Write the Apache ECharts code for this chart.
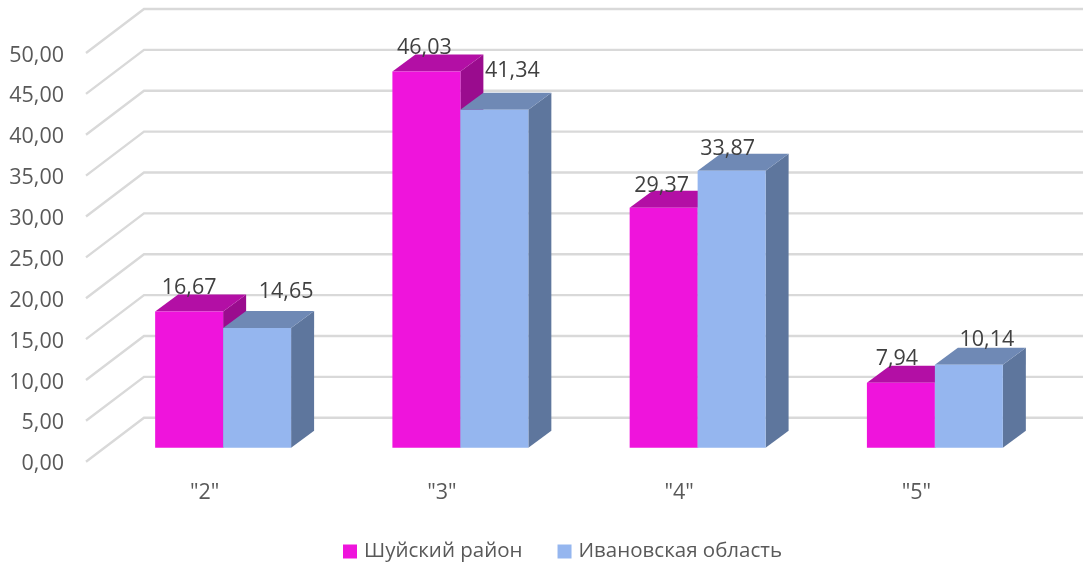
<!DOCTYPE html>
<html>
<head>
<meta charset="utf-8">
<style>
  html, body { margin: 0; padding: 0; background: #fff; }
  #chart { width: 1083px; height: 565px; }
</style>
</head>
<body>
<div id="chart"></div>
<script src="https://cdn.jsdelivr.net/npm/echarts@6/dist/echarts.min.js"></script>
<script>
const categories = ['"2"', '"3"', '"4"', '"5"'];
const shuya = [16.67, 46.03, 29.37, 7.94];
const ivanovo = [14.65, 41.34, 33.87, 10.14];
const yTicks = [0, 5, 10, 15, 20, 25, 30, 35, 40, 45, 50];
const seriesNames = ['Шуйский район', 'Ивановская область'];

const FONT = '"Open Sans", sans-serif';
const fmt = v => v.toFixed(2).replace('.', ',');

// depth of the back wall and of a bar, and where the bars stand between wall and front edge
const WALL = [58, -44];
const BAR_DEPTH = [23, -17];
const FLOOR = [18.5, -14];
const BAR_WIDTH = 0.2865;

// label shifts by hand, the original has them dragged around
const shuyaNudge = [[0, -24], [-2, -24], [-2, -22], [-4, -24]];
const ivanovoNudge = [[29, -36], [18, -39], [-4, -22], [18, -25]];

function poly(points, fill) {
  return { type: 'polygon', shape: { points }, style: { fill } };
}

function barRender(side, nudge, colors) {
  return function (params, api) {
    const i = api.value(0);
    const v = api.value(1);
    const w = api.size([1, 0])[0] * BAR_WIDTH;
    const base = api.coord([i, 0]);
    const top = api.coord([i, v]);
    const x0 = base[0] + FLOOR[0] + (side < 0 ? -w : 0);
    const x1 = x0 + w;
    const y0 = base[1] + FLOOR[1];
    const y1 = top[1] + FLOOR[1];
    const dx = BAR_DEPTH[0];
    const dy = BAR_DEPTH[1];
    return {
      type: 'group',
      children: [
        poly([[x1, y0], [x1 + dx, y0 + dy], [x1 + dx, y1 + dy], [x1, y1]], colors.side),
        poly([[x0, y1], [x1, y1], [x1 + dx, y1 + dy], [x0 + dx, y1 + dy]], colors.top),
        poly([[x0, y0], [x1, y0], [x1, y1], [x0, y1]], colors.front),
        {
          type: 'text',
          z2: 10,
          style: {
            text: fmt(v),
            x: (x0 + x1) / 2 + nudge[i][0],
            y: y1 + nudge[i][1],
            align: 'center',
            verticalAlign: 'middle',
            fill: '#404040',
            font: '21.5px ' + FONT
          }
        }
      ]
    };
  };
}

function wallRender(params, api) {
  const p = api.coord([0, api.value(1)]);
  const sys = params.coordSys;
  return {
    type: 'polyline',
    shape: {
      points: [
        [sys.x, p[1]],
        [sys.x + WALL[0], p[1] + WALL[1]],
        [sys.x + sys.width + WALL[0], p[1] + WALL[1]]
      ]
    },
    style: { stroke: '#d9d9d9', lineWidth: 2.4, fill: null }
  };
}

const chart = echarts.init(document.getElementById('chart'));
chart.setOption({
  animation: false,
  backgroundColor: '#fff',
  grid: { left: 86, top: 53, width: 949, height: 408.7 },
  legend: {
    data: seriesNames,
    left: 338,
    top: 536,
    icon: 'rect',
    itemWidth: 14,
    itemHeight: 14,
    itemGap: 35,
    textStyle: { color: '#595959', fontSize: 20.5, fontFamily: FONT, padding: [0, 0, 0, 2] }
  },
  xAxis: {
    type: 'category',
    data: categories,
    axisLine: { show: false },
    axisTick: { show: false },
    axisLabel: { color: '#595959', fontSize: 21.5, fontFamily: FONT, margin: 20 }
  },
  yAxis: {
    type: 'value',
    min: 0,
    max: 50,
    interval: 5,
    splitLine: { show: false },
    axisLine: { show: false },
    axisTick: { show: false },
    axisLabel: {
      color: '#595959',
      fontSize: 21.5,
      fontFamily: FONT,
      margin: 22,
      verticalAlign: 'top',
      lineHeight: 5,
      formatter: fmt
    }
  },
  series: [
    {
      type: 'custom',
      silent: true,
      clip: false,
      renderItem: wallRender,
      data: yTicks.map(t => [0, t]),
      z: 1
    },
    {
      name: seriesNames[0],
      type: 'custom',
      clip: false,
      renderItem: barRender(-1, shuyaNudge, { front: '#ef14dc', top: '#b30fa5', side: '#9a0c8e' }),
      itemStyle: { color: '#ef14dc' },
      data: shuya.map((v, i) => [i, v]),
      z: 2
    },
    {
      name: seriesNames[1],
      type: 'custom',
      clip: false,
      renderItem: barRender(1, ivanovoNudge, { front: '#95b6ef', top: '#6f89b5', side: '#5e769d' }),
      itemStyle: { color: '#95b6ef' },
      data: ivanovo.map((v, i) => [i, v]),
      z: 3
    }
  ]
});
</script>
</body>
</html>
